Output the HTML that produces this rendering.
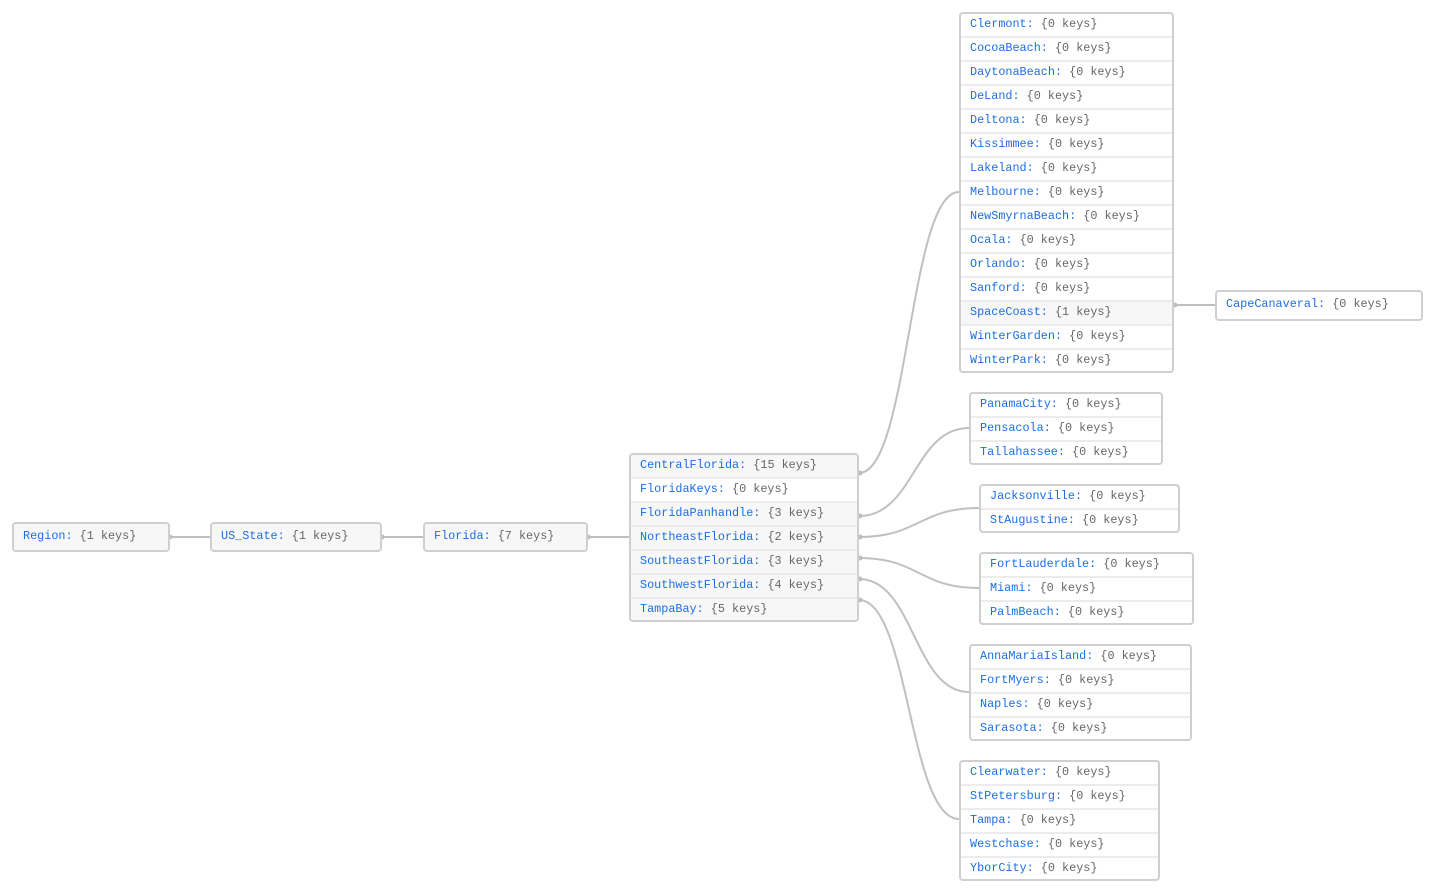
<!DOCTYPE html>
<html><head><meta charset="utf-8"><style>
html,body{margin:0;padding:0;background:#fff;width:1435px;height:892px;overflow:hidden;position:relative}
.b{position:absolute;border:2px solid #cfcfcf;border-radius:4px;box-sizing:border-box;background:#fff;overflow:hidden}
.r{height:24px;line-height:23px;padding-left:9px;border-top:2px solid #ececec;box-sizing:border-box;font-family:"Liberation Mono",monospace;font-size:11.8px;white-space:nowrap;color:#666}
.r>span.t{position:relative;top:-1px}
.r:first-child{border-top:none;height:22px;line-height:22px}
.g{background:#f7f7f7}
.k{color:#1a6fe6}
.s .r{height:26px;line-height:26px;border:none}
svg{position:absolute;left:0;top:0}
</style></head><body>
<svg width="1435" height="892">
<g fill="none" stroke="#c0c0c0" stroke-width="2">
<line x1="169" y1="537" x2="210" y2="537"/>
<line x1="381" y1="537" x2="423" y2="537"/>
<line x1="587" y1="537" x2="629" y2="537"/>
<line x1="1173" y1="305" x2="1215" y2="305"/>
<path d="M859 473 C909 473 909 192 959 192"/>
<path d="M859 516 C914 516 914 428 969 428"/>
<path d="M859 537 C919 537 919 508 979 508"/>
<path d="M859 558 C919 558 919 588 979 588"/>
<path d="M859 579 C914 579 914 692 969 692"/>
<path d="M859 600 C909 600 909 819 959 819"/>
</g>
<g fill="#bdbdbd">
<circle cx="170" cy="537" r="2.5"/><circle cx="382" cy="537" r="2.5"/><circle cx="588" cy="537" r="2.5"/>
<circle cx="860" cy="473" r="2.5"/><circle cx="860" cy="516" r="2.5"/><circle cx="860" cy="537" r="2.5"/>
<circle cx="860" cy="558" r="2.5"/><circle cx="860" cy="579" r="2.5"/><circle cx="860" cy="600" r="2.5"/>
<circle cx="1175" cy="305" r="2.5"/>
</g>
</svg>

<div class="b s" style="left:12px;top:522px;width:158px;height:30px"><div class="r g" style="height:26px"><span class="t"><span class="k">Region:</span> {1 keys}</span></div></div>
<div class="b s" style="left:210px;top:522px;width:172px;height:30px"><div class="r g" style="height:26px"><span class="t"><span class="k">US_State:</span> {1 keys}</span></div></div>
<div class="b s" style="left:423px;top:522px;width:165px;height:30px"><div class="r g" style="height:26px"><span class="t"><span class="k">Florida:</span> {7 keys}</span></div></div>

<div class="b" style="left:629px;top:453px;width:230px;height:169px">
<div class="r g"><span class="t"><span class="k">CentralFlorida:</span> {15 keys}</span></div>
<div class="r"><span class="t"><span class="k">FloridaKeys:</span> {0 keys}</span></div>
<div class="r g"><span class="t"><span class="k">FloridaPanhandle:</span> {3 keys}</span></div>
<div class="r g"><span class="t"><span class="k">NortheastFlorida:</span> {2 keys}</span></div>
<div class="r g"><span class="t"><span class="k">SoutheastFlorida:</span> {3 keys}</span></div>
<div class="r g"><span class="t"><span class="k">SouthwestFlorida:</span> {4 keys}</span></div>
<div class="r g"><span class="t"><span class="k">TampaBay:</span> {5 keys}</span></div>
</div>

<div class="b" style="left:959px;top:12px;width:215px;height:361px">
<div class="r"><span class="t"><span class="k">Clermont:</span> {0 keys}</span></div>
<div class="r"><span class="t"><span class="k">CocoaBeach:</span> {0 keys}</span></div>
<div class="r"><span class="t"><span class="k">DaytonaBeach:</span> {0 keys}</span></div>
<div class="r"><span class="t"><span class="k">DeLand:</span> {0 keys}</span></div>
<div class="r"><span class="t"><span class="k">Deltona:</span> {0 keys}</span></div>
<div class="r"><span class="t"><span class="k">Kissimmee:</span> {0 keys}</span></div>
<div class="r"><span class="t"><span class="k">Lakeland:</span> {0 keys}</span></div>
<div class="r"><span class="t"><span class="k">Melbourne:</span> {0 keys}</span></div>
<div class="r"><span class="t"><span class="k">NewSmyrnaBeach:</span> {0 keys}</span></div>
<div class="r"><span class="t"><span class="k">Ocala:</span> {0 keys}</span></div>
<div class="r"><span class="t"><span class="k">Orlando:</span> {0 keys}</span></div>
<div class="r"><span class="t"><span class="k">Sanford:</span> {0 keys}</span></div>
<div class="r g"><span class="t"><span class="k">SpaceCoast:</span> {1 keys}</span></div>
<div class="r"><span class="t"><span class="k">WinterGarden:</span> {0 keys}</span></div>
<div class="r"><span class="t"><span class="k">WinterPark:</span> {0 keys}</span></div>
</div>

<div class="b s" style="left:1215px;top:290px;width:208px;height:31px"><div class="r" style="height:27px;line-height:27px"><span class="t"><span class="k">CapeCanaveral:</span> {0 keys}</span></div></div>

<div class="b" style="left:969px;top:392px;width:194px;height:73px">
<div class="r"><span class="t"><span class="k">PanamaCity:</span> {0 keys}</span></div>
<div class="r"><span class="t"><span class="k">Pensacola:</span> {0 keys}</span></div>
<div class="r"><span class="t"><span class="k">Tallahassee:</span> {0 keys}</span></div>
</div>

<div class="b" style="left:979px;top:484px;width:201px;height:49px">
<div class="r"><span class="t"><span class="k">Jacksonville:</span> {0 keys}</span></div>
<div class="r"><span class="t"><span class="k">StAugustine:</span> {0 keys}</span></div>
</div>

<div class="b" style="left:979px;top:552px;width:215px;height:73px">
<div class="r"><span class="t"><span class="k">FortLauderdale:</span> {0 keys}</span></div>
<div class="r"><span class="t"><span class="k">Miami:</span> {0 keys}</span></div>
<div class="r"><span class="t"><span class="k">PalmBeach:</span> {0 keys}</span></div>
</div>

<div class="b" style="left:969px;top:644px;width:223px;height:97px">
<div class="r"><span class="t"><span class="k">AnnaMariaIsland:</span> {0 keys}</span></div>
<div class="r"><span class="t"><span class="k">FortMyers:</span> {0 keys}</span></div>
<div class="r"><span class="t"><span class="k">Naples:</span> {0 keys}</span></div>
<div class="r"><span class="t"><span class="k">Sarasota:</span> {0 keys}</span></div>
</div>

<div class="b" style="left:959px;top:760px;width:201px;height:121px">
<div class="r"><span class="t"><span class="k">Clearwater:</span> {0 keys}</span></div>
<div class="r"><span class="t"><span class="k">StPetersburg:</span> {0 keys}</span></div>
<div class="r"><span class="t"><span class="k">Tampa:</span> {0 keys}</span></div>
<div class="r"><span class="t"><span class="k">Westchase:</span> {0 keys}</span></div>
<div class="r"><span class="t"><span class="k">YborCity:</span> {0 keys}</span></div>
</div>
</body></html>
